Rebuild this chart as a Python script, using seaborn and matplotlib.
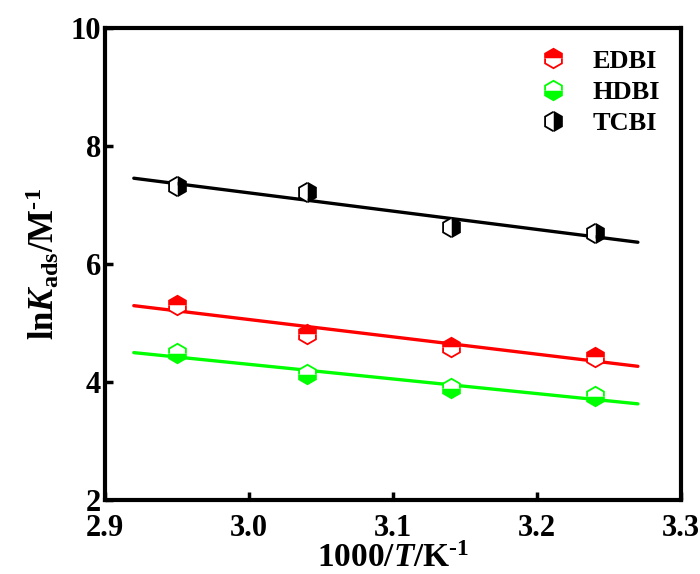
import numpy as np
import matplotlib.pyplot as plt
import seaborn as sns

inv_t = [2.95, 3.04, 3.14, 3.24]
edbi = [5.31, 4.82, 4.59, 4.43]
hdbi = [4.49, 4.13, 3.90, 3.76]
tcbi = [7.32, 7.22, 6.62, 6.52]
fit_range = [2.92, 3.27]

sns.set_style('white')
plt.rcParams['font.family'] = ['Liberation Serif', 'DejaVu Serif']
plt.rcParams['font.weight'] = 'bold'
plt.rcParams['text.color'] = 'black'
plt.rcParams['axes.labelcolor'] = 'black'
plt.rcParams['xtick.color'] = 'black'
plt.rcParams['ytick.color'] = 'black'
plt.rcParams['mathtext.fontset'] = 'custom'
plt.rcParams['mathtext.rm'] = 'Liberation Serif:bold'
plt.rcParams['mathtext.it'] = 'Liberation Serif:bold:italic'
plt.rcParams['mathtext.bf'] = 'Liberation Serif:bold'

fig = plt.figure(figsize=(7, 5.74), dpi=100)
ax = fig.add_axes([0.15, 0.129, 0.823, 0.822])

series = [
    ('EDBI', edbi, '#ff0000', 'top'),
    ('HDBI', hdbi, '#00ff00', 'bottom'),
    ('TCBI', tcbi, '#000000', 'right'),
]

for name, vals, col, fill in series:
    k, b = np.polyfit(inv_t, vals, 1)
    xs = np.array(fit_range)
    sns.lineplot(x=xs, y=k * xs + b, color=col, linewidth=2.4, ax=ax)
    sns.lineplot(x=inv_t, y=vals, color=col, linestyle='none', marker='h',
                 markersize=14, fillstyle=fill, markeredgecolor=col,
                 markerfacecolor=col, markerfacecoloralt='white',
                 markeredgewidth=1.3, label=name, ax=ax)

ax.set_xlim(2.9, 3.3)
ax.set_ylim(2, 10)
ax.set_xticks([2.9, 3.0, 3.1, 3.2, 3.3])
ax.set_xticklabels(['2.9', '3.0', '3.1', '3.2', '3.3'])
ax.set_yticks([2, 4, 6, 8, 10])
ax.tick_params(direction='in', length=6, width=2.5, labelsize=22,
               bottom=True, left=True, pad=3, colors='black')
ax.tick_params(axis='x', pad=10)
for lab in ax.get_xticklabels() + ax.get_yticklabels():
    lab.set_fontweight('bold')
for s in ax.spines.values():
    s.set_linewidth(3)
    s.set_color('black')

ax.set_xlabel(r'1000/$T$/K$^{\text{-1}}$', fontsize=24, fontweight='bold', labelpad=0)
ax.set_ylabel(r'ln$K_{\text{ads}}$/M$^{\text{-1}}$', fontsize=25, fontweight='bold', labelpad=6)

ax.legend(loc='upper right', frameon=False, prop={'size': 19, 'weight': 'bold'},
          handlelength=1.0, handletextpad=1.0, labelspacing=0.3,
          borderaxespad=0.4, markerscale=1.0)

fig.savefig('out.png', dpi=100)
